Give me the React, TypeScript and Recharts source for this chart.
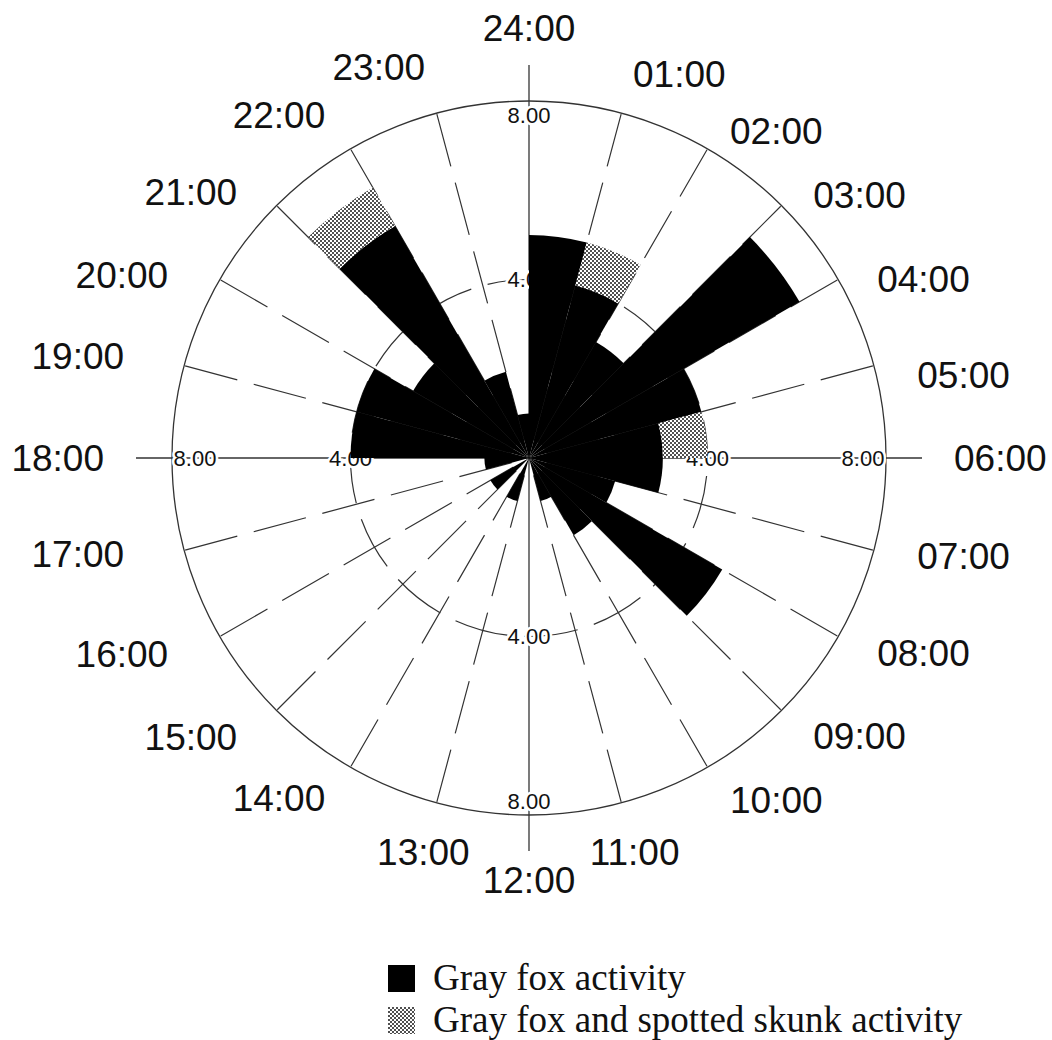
import React from 'react';
import {
  RadialBarChart,
  RadialBar,
  PolarAngleAxis,
  PolarRadiusAxis,
  PolarGrid,
} from 'recharts';

if (typeof document !== 'undefined') document.body.style.margin = '0';

// one wedge per hour, clockwise from midnight
const hourKeys = [
  '00', '01', '02', '03', '04', '05', '06', '07', '08', '09', '10', '11',
  '12', '13', '14', '15', '16', '17', '18', '19', '20', '21', '22', '23',
];
const hourLabels = [
  '24:00', '01:00', '02:00', '03:00', '04:00', '05:00', '06:00', '07:00',
  '08:00', '09:00', '10:00', '11:00', '12:00', '13:00', '14:00', '15:00',
  '16:00', '17:00', '18:00', '19:00', '20:00', '21:00', '22:00', '23:00',
];
const foxActivity = [5, 4, 3, 7, 4, 3, 3, 2, 5, 2, 1, 0, 0, 1, 0, 1, 0, 1, 4, 4, 3, 6, 2, 1];
const foxSkunkActivity = [0, 1, 0, 0, 0, 1, 0, 0, 0, 0, 0, 0, 0, 0, 0, 0, 0, 0, 0, 0, 0, 1, 0, 0];

const ringTicks = [4];
const outerTicks = [8];
const radiusLabelTicks = [4, 8];
const radiusAxisAngles = [90, 0, 270, 180];

const legendItems = [
  { label: 'Gray fox activity', fill: '#000000' },
  { label: 'Gray fox and spotted skunk activity', fill: 'url(#stipple)' },
];

const data = hourKeys.map((hour, i) => ({
  hour,
  fox: foxActivity[i],
  shared: foxSkunkActivity[i],
}));

// band ticks of a polar angle axis sit at the clockwise end of each wedge,
// so the tick of hour i marks the boundary at hour i + 1
const majorKeys = hourKeys.filter((_, i) => (i + 1) % 6 === 0);
const minorKeys = hourKeys.filter((_, i) => (i + 1) % 6 !== 0);

const WIDTH = 1052;
const HEIGHT = 1040;
const CX = 529;
const CY = 458;
const OUTER = 357;
const LINE = '#333333';
const SANS = '"Liberation Sans", Arial, Helvetica, sans-serif';
const SERIF = '"Liberation Serif", "Times New Roman", Times, serif';

function HourTick(props: any) {
  const clock = (((90 - Number(props.payload.coordinate)) % 360) + 360) % 360;
  const h = Math.round(clock / 15) % 24;
  const rad = (h * 15 * Math.PI) / 180;
  const s = Math.sin(rad);
  const c = Math.cos(rad);
  let anchor: 'start' | 'middle' | 'end' = s > 0.01 ? 'start' : s < -0.01 ? 'end' : 'middle';
  let r = s > 0 ? 402 : 395 + 25 * Math.abs(s);
  let dy: number;
  if (s > 0) dy = c > 0.9 ? 5 : c > 0 ? 22 : -6;
  else dy = c > 0.9 ? -3 : c > 0.8 ? 10 : c > 0.4 ? 26 : c > 0 ? 7 : -12;
  if (h % 6 === 0) {
    dy = 0;
    r = anchor === 'middle' ? (c > 0 ? 430 : 422) : 425;
  } else if (Math.abs(s) < 0.3 && c < 0) {
    anchor = 'middle';
    r = 408;
    dy = 0;
  }
  return (
    <text
      x={CX + r * s}
      y={CY - r * c + dy}
      textAnchor={anchor}
      dominantBaseline="central"
      fontSize={37}
      fontFamily={SANS}
      fill="#111111"
    >
      {hourLabels[h]}
    </text>
  );
}

function radiusTick(angle: number) {
  return (props: any) => {
    const v = Number(props.payload.value);
    const rad = (angle * Math.PI) / 180;
    const edge = v === outerTicks[0];
    const x = props.x - (edge ? Math.cos(rad) * 23 : 0);
    const y = props.y + (edge ? Math.sin(rad) * 14 : 0);
    return (
      <text
        x={x}
        y={y}
        textAnchor="middle"
        dominantBaseline="central"
        fontSize={22}
        fontFamily={SANS}
        fill="#111111"
        stroke="#ffffff"
        strokeWidth={5}
        paintOrder="stroke"
      >
        {v.toFixed(2)}
      </text>
    );
  };
}

function RoseLegend() {
  return (
    <div
      style={{
        position: 'absolute',
        left: 388,
        top: 957,
        fontFamily: SERIF,
        fontSize: 37,
        color: '#111',
      }}
    >
      {legendItems.map((item) => (
        <div key={item.label} style={{ display: 'flex', alignItems: 'center', height: 42, whiteSpace: 'nowrap' }}>
          <svg width={27} height={27} style={{ marginRight: 18 }}>
            <rect width={27} height={27} fill={item.fill} />
          </svg>
          <span style={{ lineHeight: '42px' }}>{item.label}</span>
        </div>
      ))}
    </div>
  );
}

export default function App() {
  return (
    <div style={{ position: 'relative', width: WIDTH, height: HEIGHT, background: '#fff', overflow: 'hidden' }}>
      <RadialBarChart
        width={WIDTH}
        height={HEIGHT}
        data={data}
        cx={CX}
        cy={CY}
        innerRadius={0}
        outerRadius={OUTER}
        startAngle={75}
        endAngle={-285}
        layout="centric"
        barCategoryGap={0}
        barGap={0}
        margin={{ top: 0, right: 0, bottom: 0, left: 0 }}
      >
        <defs>
          <pattern id="stipple" width={4} height={4} patternUnits="userSpaceOnUse">
            <rect width={4} height={4} fill="#ffffff" />
            <rect x={0} y={0} width={2} height={2} fill="#505050" />
            <rect x={2} y={2} width={2} height={2} fill="#505050" />
          </pattern>
        </defs>

        <PolarAngleAxis dataKey="hour" type="category" tick={false} tickLine={false} axisLine={false} />
        <PolarAngleAxis
          angleAxisId="minor"
          dataKey="hour"
          type="category"
          ticks={minorKeys}
          tick={false}
          tickLine={false}
          axisLine={false}
        />
        <PolarAngleAxis
          angleAxisId="major"
          dataKey="hour"
          type="category"
          ticks={majorKeys}
          tick={false}
          tickLine={{ stroke: LINE, strokeWidth: 1.3 }}
          tickSize={36}
          axisLine={false}
        />
        <PolarAngleAxis
          angleAxisId="labels"
          dataKey="hour"
          type="category"
          tickLine={false}
          axisLine={false}
          tick={(p: any) => <HourTick {...p} />}
        />

        <PolarRadiusAxis
          type="number"
          domain={[0, 8]}
          ticks={outerTicks}
          allowDataOverflow
          tick={false}
          tickLine={false}
          axisLine={false}
        />
        <PolarRadiusAxis
          radiusAxisId="ring"
          type="number"
          domain={[0, 8]}
          ticks={ringTicks}
          allowDataOverflow
          tick={false}
          tickLine={false}
          axisLine={false}
        />

        <PolarGrid
          angleAxisId="minor"
          radiusAxisId="ring"
          gridType="circle"
          stroke={LINE}
          strokeWidth={1.2}
          strokeDasharray="54 17"
          strokeDashoffset={53}
        />
        <PolarGrid angleAxisId="major" radiusAxisId={0} gridType="circle" stroke={LINE} strokeWidth={1.3} />

        {radiusAxisAngles.map((a) => (
          <PolarRadiusAxis
            key={a}
            radiusAxisId={`r${a}`}
            angle={a}
            type="number"
            domain={[0, 8]}
            ticks={radiusLabelTicks}
            allowDataOverflow
            tickLine={false}
            axisLine={false}
            tick={radiusTick(a)}
            zIndex={-50}
          />
        ))}

        <RadialBar dataKey="fox" stackId="act" fill="#000000" isAnimationActive={false} />
        <RadialBar dataKey="shared" stackId="act" fill="url(#stipple)" isAnimationActive={false} />
      </RadialBarChart>
      <RoseLegend />
    </div>
  );
}
